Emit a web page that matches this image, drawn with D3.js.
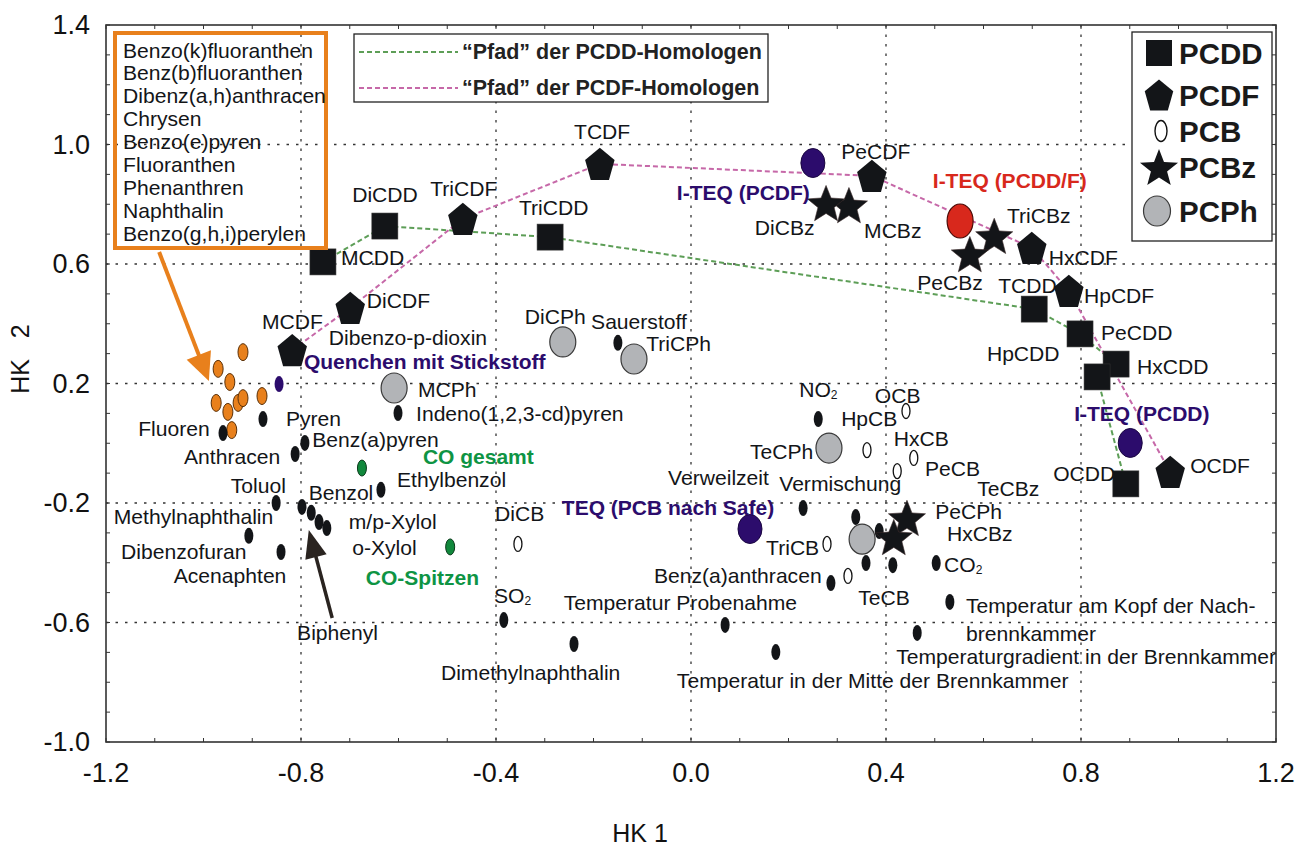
<!DOCTYPE html>
<html><head><meta charset="utf-8">
<script src="https://cdn.jsdelivr.net/npm/d3@7"></script>
<style>
body{margin:0;background:#fff;}
svg{display:block;font-family:"Liberation Sans",Arial,Helvetica,sans-serif;}
</style></head><body>
<svg id="chart" width="1308" height="847"></svg>
<script>
// ---------- data (HK 1 = x, HK 2 = y) ----------
const xTicks=[-1.2,-0.8,-0.4,0.0,0.4,0.8,1.2];
const yTicks=[-1.0,-0.6,-0.2,0.2,0.6,1.0,1.4];

const pcdd=[
 {n:"MCDD",x:-0.755,y:0.607},{n:"DiCDD",x:-0.628,y:0.727},{n:"TriCDD",x:-0.289,y:0.690},
 {n:"TCDD",x:0.704,y:0.449},{n:"PeCDD",x:0.798,y:0.366},{n:"HxCDD",x:0.872,y:0.265},
 {n:"HpCDD",x:0.833,y:0.222},{n:"OCDD",x:0.892,y:-0.136}];
const pcdf=[
 {n:"MCDF",x:-0.818,y:0.312},{n:"DiCDF",x:-0.699,y:0.453},{n:"TriCDF",x:-0.468,y:0.751},
 {n:"TCDF",x:-0.187,y:0.935},{n:"PeCDF",x:0.371,y:0.895},{n:"HxCDF",x:0.699,y:0.654},
 {n:"HpCDF",x:0.775,y:0.510},{n:"OCDF",x:0.983,y:-0.096}];
const pcb=[
 {n:"DiCB",x:-0.355,y:-0.337},{n:"TriCB",x:0.279,y:-0.337},{n:"TeCB",x:0.322,y:-0.444},
 {n:"PeCB",x:0.423,y:-0.093},{n:"HxCB",x:0.457,y:-0.049},{n:"HpCB",x:0.361,y:-0.023},
 {n:"OCB",x:0.441,y:0.108}];
const pcbz=[
 {n:"MCBz",x:0.324,y:0.797},{n:"DiCBz",x:0.277,y:0.804},{n:"TriCBz",x:0.622,y:0.694},
 {n:"TeCBz",x:0.443,y:-0.250},{n:"PeCBz",x:0.572,y:0.633},{n:"HxCBz",x:0.416,y:-0.314}];
const pcph=[
 {n:"MCPh",x:-0.609,y:0.185},{n:"DiCPh",x:-0.263,y:0.339},{n:"TriCPh",x:-0.117,y:0.282},
 {n:"TeCPh",x:0.283,y:-0.016},{n:"PeCPh",x:0.351,y:-0.321}];
const teqPurple=[
 {n:"I-TEQ (PCDF)",x:0.250,y:0.938},{n:"I-TEQ (PCDD)",x:0.901,y:0.001},
 {n:"TEQ (PCB nach Safe)",x:0.121,y:-0.287}];
const teqRed=[{n:"I-TEQ (PCDD/F)",x:0.552,y:0.744}];
const quench=[{n:"Quenchen mit Stickstoff",x:-0.845,y:0.198}];
const coPoints=[{n:"CO gesamt",x:-0.675,y:-0.083},{n:"CO-Spitzen",x:-0.494,y:-0.347}];
const pahNames=["Benzo(k)fluoranthen","Benz(b)fluoranthen","Dibenz(a,h)anthracen","Chrysen",
 "Benzo(e)pyren","Fluoranthen","Phenanthren","Naphthalin","Benzo(g,h,i)perylen"];
const pahPoints=[
 {x:-0.919,y:0.305},{x:-0.970,y:0.249},{x:-0.946,y:0.205},{x:-0.974,y:0.135},{x:-0.950,y:0.105},
 {x:-0.929,y:0.135},{x:-0.919,y:0.151},{x:-0.880,y:0.158},{x:-0.942,y:0.044}];
const otherPoints=[
 {n:"Pyren",x:-0.878,y:0.081},{n:"Fluoren",x:-0.960,y:0.034},{n:"Anthracen",x:-0.812,y:-0.036},
 {n:"Benz(a)pyren",x:-0.792,y:0.001},{n:"Indeno(1,2,3-cd)pyren",x:-0.601,y:0.101},
 {n:"Ethylbenzol",x:-0.636,y:-0.156},{n:"Toluol",x:-0.851,y:-0.200},{n:"Benzol",x:-0.798,y:-0.213},
 {n:"m/p-Xylol",x:-0.779,y:-0.233},{n:"o-Xylol",x:-0.763,y:-0.264},{n:"Biphenyl",x:-0.747,y:-0.284},
 {n:"Dibenzofuran",x:-0.907,y:-0.310},{n:"Acenaphten",x:-0.841,y:-0.364},
 {n:"Sauerstoff",x:-0.150,y:0.336},{n:"NO2",x:0.261,y:0.081},{n:"Verweilzeit",x:0.230,y:-0.217},
 {n:"Vermischung",x:0.338,y:-0.247},{n:"p1",x:0.386,y:-0.294},{n:"p2",x:0.359,y:-0.401},
 {n:"p3",x:0.414,y:-0.408},{n:"Benz(a)anthracen",x:0.287,y:-0.468},{n:"CO2",x:0.503,y:-0.401},
 {n:"Temperatur am Kopf",x:0.531,y:-0.531},{n:"Temperaturgradient",x:0.464,y:-0.635},
 {n:"SO2",x:-0.384,y:-0.592},{n:"Dimethylnaphthalin",x:-0.240,y:-0.672},
 {n:"Temperatur Probenahme",x:0.070,y:-0.608},{n:"Temperatur Mitte",x:0.174,y:-0.699}];
const pcddPath=["MCDD","DiCDD","TriCDD","TCDD","PeCDD","HxCDD","HpCDD","OCDD"];
const pcdfPath=["MCDF","DiCDF","TriCDF","TCDF","PeCDF","HxCDF","HpCDF","OCDF"];
// label text, anchor x, anchor y (data units, left edge / middle), kind
const labels=[
 ["DiCDD",-0.695,0.834,"n"],["TriCDF",-0.535,0.854,"n"],["MCDD",-0.718,0.623,"n"],
 ["TriCDD",-0.353,0.791,"n"],["TCDF",-0.240,1.045,"n"],["PeCDF",0.308,0.978,"n"],
 ["I-TEQ (PCDF)",-0.029,0.841,"p"],["DiCBz",0.131,0.724,"n"],["MCBz",0.355,0.714,"n"],
 ["I-TEQ (PCDD/F)",0.496,0.881,"r"],["TriCBz",0.648,0.764,"n"],["HxCDF",0.734,0.623,"n"],
 ["PeCBz",0.464,0.540,"n"],["TCDD",0.630,0.530,"n"],["HpCDF",0.806,0.496,"n"],
 ["PeCDD",0.841,0.372,"n"],["HpCDD",0.607,0.302,"n"],["HxCDD",0.915,0.259,"n"],
 ["I-TEQ (PCDD)",0.786,0.101,"p"],["OCDF",1.024,-0.073,"n"],["OCDD",0.743,-0.100,"n"],
 ["OCB",0.377,0.162,"n"],["HxCB",0.416,0.018,"n"],["PeCB",0.480,-0.083,"n"],
 ["TeCBz",0.587,-0.150,"n"],["PeCPh",0.501,-0.227,"n"],["HxCBz",0.525,-0.300,"n"],
 ["CO|2",0.519,-0.404,"n"],["TeCB",0.343,-0.515,"n"],
 ["Temperatur am Kopf der Nach-",0.564,-0.541,"n"],["brennkammer",0.564,-0.635,"n"],
 ["Temperaturgradient in der Brennkammer",0.421,-0.712,"n"],
 ["Temperatur in der Mitte der Brennkammer",-0.029,-0.792,"n"],
 ["DiCPh",-0.341,0.426,"n"],["Sauerstoff",-0.205,0.409,"n"],["TriCPh",-0.092,0.336,"n"],
 ["NO|2",0.222,0.182,"n"],["HpCB",0.308,0.085,"n"],["TeCPh",0.121,-0.026,"n"],
 ["Verweilzeit",-0.047,-0.113,"n"],["Vermischung",0.181,-0.133,"n"],
 ["TEQ (PCB nach Safe)",-0.265,-0.213,"p"],["TriCB",0.154,-0.347,"n"],
 ["Benz(a)anthracen",-0.076,-0.441,"n"],["Indeno(1,2,3-cd)pyren",-0.564,0.101,"n"],
 ["MCDF",-0.880,0.409,"n"],["DiCDF",-0.665,0.479,"n"],["Dibenzo-p-dioxin",-0.743,0.356,"n"],
 ["Quenchen mit Stickstoff",-0.794,0.275,"p"],["MCPh",-0.560,0.182,"n"],
 ["Pyren",-0.831,0.085,"n"],["Fluoren",-1.134,0.051,"n"],["Benz(a)pyren",-0.777,0.014,"n"],
 ["Anthracen",-1.040,-0.043,"n"],["CO gesamt",-0.550,-0.043,"g"],["Ethylbenzol",-0.603,-0.121,"n"],
 ["Toluol",-0.944,-0.140,"n"],["Benzol",-0.784,-0.163,"n"],["Methylnaphthalin",-1.184,-0.244,"n"],
 ["m/p-Xylol",-0.702,-0.260,"n"],["DiCB",-0.402,-0.233,"n"],["o-Xylol",-0.695,-0.347,"n"],
 ["Dibenzofuran",-1.169,-0.361,"n"],["Acenaphten",-1.061,-0.441,"n"],["CO-Spitzen",-0.667,-0.448,"g"],
 ["SO|2",-0.404,-0.508,"n"],["Temperatur Probenahme",-0.261,-0.531,"n"],
 ["Dimethylnaphthalin",-0.513,-0.766,"n"],["Biphenyl",-0.808,-0.632,"n"]];
const legendItems=["PCDD","PCDF","PCB","PCBz","PCPh"];
const pathLegend=["\u201cPfad\u201d der PCDD-Homologen","\u201cPfad\u201d der PCDF-Homologen"];
// annotation arrows [tailX, tailY, headX, headY] in data units
const orangeArrow=[-1.091,0.640,-0.989,0.208];
const blackArrow=[-0.736,-0.585,-0.784,-0.290];

// ---------- drawing ----------
const svg=d3.select("#chart");
const L=106,R=1276,T=25,B=742;
const x=d3.scaleLinear().domain([-1.2,1.2]).range([L,R]);
const y=d3.scaleLinear().domain([-1.0,1.4]).range([B,T]);
const BLACK="#131518",PURPLE="#2c0c6c",RED="#d8281c",GREEN="#0e9444",ORANGE="#e8801c";
const LABEL_FS=21.1;

// grid
const gx=xTicks.slice(1,-1), gy=yTicks.slice(1,-1);
svg.append("g").selectAll("line").data(gx).join("line")
 .attr("x1",d=>x(d)).attr("x2",d=>x(d)).attr("y1",T).attr("y2",B)
 .attr("stroke","#333").attr("stroke-width",1.3).attr("stroke-dasharray","2.5,7");
svg.append("g").selectAll("line").data(gy).join("line")
 .attr("y1",d=>y(d)).attr("y2",d=>y(d)).attr("x1",L).attr("x2",R)
 .attr("stroke","#333").attr("stroke-width",1.3).attr("stroke-dasharray","2.5,7");

// axes (minor ticks inside on all four sides)
const minorX=d3.range(-12,13).map(i=>i/10), minorY=d3.range(-10,15).map(i=>i/10);
const tickG=svg.append("g").attr("stroke","#333").attr("stroke-width",1);
tickG.selectAll(".tb").data(minorX).join("line").attr("x1",d=>x(d)).attr("x2",d=>x(d)).attr("y1",B).attr("y2",B-4);
tickG.selectAll(".tt").data(minorX).join("line").attr("x1",d=>x(d)).attr("x2",d=>x(d)).attr("y1",T).attr("y2",T+4);
tickG.selectAll(".tl").data(minorY).join("line").attr("y1",d=>y(d)).attr("y2",d=>y(d)).attr("x1",L).attr("x2",L+4);
tickG.selectAll(".tr").data(minorY).join("line").attr("y1",d=>y(d)).attr("y2",d=>y(d)).attr("x1",R).attr("x2",R-4);
svg.append("rect").attr("x",L).attr("y",T).attr("width",R-L).attr("height",B-T)
 .attr("fill","none").attr("stroke","#333").attr("stroke-width",1.6);

svg.append("g").selectAll("text").data(xTicks).join("text")
 .attr("x",d=>x(d)).attr("y",773).attr("text-anchor","middle").attr("dominant-baseline","central")
 .attr("font-size",27).attr("fill","#111").text(d=>d3.format(".1f")(d).replace("−","-"));
svg.append("g").selectAll("text").data(yTicks).join("text")
 .attr("x",90).attr("y",d=>y(d)).attr("text-anchor","end").attr("dominant-baseline","central")
 .attr("font-size",27).attr("fill","#111").text(d=>d3.format(".1f")(d).replace("−","-"));
svg.append("text").attr("x",640).attr("y",833).attr("text-anchor","middle").attr("dominant-baseline","central")
 .attr("font-size",25).attr("fill","#111").text("HK 1");
svg.append("text").attr("transform","translate(20,359) rotate(-90)").attr("text-anchor","middle")
 .attr("dominant-baseline","central").attr("font-size",25).attr("fill","#111")
 .style("white-space","pre").text("HK   2");

// homologue paths
const byName=n=>pcdd.concat(pcdf).find(d=>d.n===n);
const line=d3.line().x(d=>x(d.x)).y(d=>y(d.y));
svg.append("path").attr("d",line(pcddPath.map(byName))).attr("fill","none")
 .attr("stroke","#5d9e57").attr("stroke-width",2).attr("stroke-dasharray","5,3");
svg.append("path").attr("d",line(pcdfPath.map(byName))).attr("fill","none")
 .attr("stroke","#c668a8").attr("stroke-width",2).attr("stroke-dasharray","5,3");

// shape helpers
function pentPath(r){const sy=1.15,p=[];for(let i=0;i<5;i++){const a=-Math.PI/2+i*2*Math.PI/5;p.push([r*Math.cos(a),r*Math.sin(a)*sy+r*0.0955*sy]);}return "M"+p.map(q=>q.join(",")).join("L")+"Z";}
function starPath(ro,ri){const p=[];for(let i=0;i<10;i++){const a=-Math.PI/2+i*Math.PI/5,rr=i%2?ri:ro;p.push([rr*Math.cos(a),rr*Math.sin(a)+ro*0.095]);}return "M"+p.map(q=>q.join(",")).join("L")+"Z";}

// small dots
svg.append("g").selectAll("ellipse").data(pahPoints).join("ellipse")
 .attr("cx",d=>x(d.x)).attr("cy",d=>y(d.y)).attr("rx",5).attr("ry",8.5)
 .attr("fill",ORANGE).attr("stroke","#5a3008").attr("stroke-width",1);
svg.append("g").selectAll("ellipse").data(otherPoints).join("ellipse")
 .attr("cx",d=>x(d.x)).attr("cy",d=>y(d.y)).attr("rx",4.5).attr("ry",8).attr("fill",BLACK);
svg.append("g").selectAll("ellipse").data(coPoints).join("ellipse")
 .attr("cx",d=>x(d.x)).attr("cy",d=>y(d.y)).attr("rx",4.5).attr("ry",8)
 .attr("fill","#11883c").attr("stroke","#0a3a1a").attr("stroke-width",1);
svg.append("g").selectAll("ellipse").data(quench).join("ellipse")
 .attr("cx",d=>x(d.x)).attr("cy",d=>y(d.y)).attr("rx",4.5).attr("ry",8).attr("fill",PURPLE);
svg.append("g").selectAll("ellipse").data(pcb).join("ellipse")
 .attr("cx",d=>x(d.x)).attr("cy",d=>y(d.y)).attr("rx",4).attr("ry",7.5)
 .attr("fill","#fff").attr("stroke","#111").attr("stroke-width",1.3);
// PCPh
svg.append("g").selectAll("ellipse").data(pcph).join("ellipse")
 .attr("cx",d=>x(d.x)).attr("cy",d=>y(d.y)).attr("rx",13).attr("ry",15)
 .attr("fill","#b2b4b7").attr("stroke","#3a3a3a").attr("stroke-width",1.2);
// TEQ
svg.append("g").selectAll("ellipse").data(teqPurple).join("ellipse")
 .attr("cx",d=>x(d.x)).attr("cy",d=>y(d.y)).attr("rx",12).attr("ry",14.5)
 .attr("fill",PURPLE).attr("stroke","#1a0640").attr("stroke-width",1);
svg.append("g").selectAll("ellipse").data(teqRed).join("ellipse")
 .attr("cx",d=>x(d.x)).attr("cy",d=>y(d.y)).attr("rx",13).attr("ry",17)
 .attr("fill",RED).attr("stroke","#4a0a06").attr("stroke-width",1.2);
// stars
svg.append("g").selectAll("path").data(pcbz).join("path")
 .attr("transform",d=>`translate(${x(d.x)},${y(d.y)})`).attr("d",starPath(19.5,8.5)).attr("fill",BLACK)
 .attr("stroke","#3a2a2a").attr("stroke-width",0.6);
// squares
svg.append("g").selectAll("rect").data(pcdd).join("rect")
 .attr("x",d=>x(d.x)-13).attr("y",d=>y(d.y)-13).attr("width",26).attr("height",26)
 .attr("fill",BLACK).attr("stroke","#333").attr("stroke-width",0.6);
// pentagons
svg.append("g").selectAll("path").data(pcdf).join("path")
 .attr("transform",d=>`translate(${x(d.x)},${y(d.y)})`).attr("d",pentPath(15.5)).attr("fill",BLACK);

// labels
const kindStyle={n:[BLACK,"normal",LABEL_FS],p:[PURPLE,"bold",21],r:[RED,"bold",21],g:[GREEN,"bold",21]};
const lab=svg.append("g").selectAll("text").data(labels).join("text")
 .attr("x",d=>x(d[1])).attr("y",d=>y(d[2])).attr("dominant-baseline","central")
 .attr("fill",d=>kindStyle[d[3]][0]).attr("font-weight",d=>kindStyle[d[3]][1])
 .attr("font-size",d=>kindStyle[d[3]][2]);
lab.each(function(d){
 const parts=d[0].split("|"), t=d3.select(this);
 t.append("tspan").text(parts[0]);
 if(parts[1]) t.append("tspan").attr("font-size",12).attr("dy",6).text(parts[1]);
});

// orange annotation box
const ob=svg.append("g");
ob.append("rect").attr("x",115).attr("y",33).attr("width",211).attr("height",215)
 .attr("fill","none").attr("stroke",ORANGE).attr("stroke-width",4);
ob.selectAll("text").data(pahNames).join("text").attr("x",123).attr("y",(d,i)=>50+i*22.9)
 .attr("dominant-baseline","central").attr("font-size",LABEL_FS).attr("fill",BLACK).text(d=>d);

function arrow(a,color,w,hl,hw){
 const x1=x(a[0]),y1=y(a[1]),x2=x(a[2]),y2=y(a[3]);
 const dx=x2-x1,dy=y2-y1,len=Math.hypot(dx,dy),ux=dx/len,uy=dy/len;
 const bx=x2-ux*hl,by=y2-uy*hl;
 svg.append("line").attr("x1",x1).attr("y1",y1).attr("x2",bx+ux*2).attr("y2",by+uy*2)
  .attr("stroke",color).attr("stroke-width",w);
 svg.append("path").attr("d",`M${x2},${y2}L${bx-uy*hw/2},${by+ux*hw/2}L${bx+uy*hw/2},${by-ux*hw/2}Z`).attr("fill",color);
}
arrow(orangeArrow,ORANGE,4,28,26);
arrow(blackArrow,"#2a2420",3.5,28,22);

// path legend
const pl=svg.append("g");
pl.append("rect").attr("x",354).attr("y",34).attr("width",414).attr("height",68)
 .attr("fill","#fff").attr("stroke","#222").attr("stroke-width",1.3);
const plColors=["#5d9e57","#c668a8"];
pathLegend.forEach((t,i)=>{
 const yy=52+i*36;
 pl.append("line").attr("x1",359).attr("x2",458).attr("y1",yy).attr("y2",yy)
  .attr("stroke",plColors[i]).attr("stroke-width",2).attr("stroke-dasharray","5,3");
 pl.append("text").attr("x",462).attr("y",yy).attr("dominant-baseline","central")
  .attr("font-size",21.5).attr("font-weight","bold").attr("fill","#222").text(t);
});

// symbol legend
const sl=svg.append("g");
sl.append("rect").attr("x",1132).attr("y",32).attr("width",140).attr("height",209)
 .attr("fill","#fff").attr("stroke","#222").attr("stroke-width",1.3);
const ly=[53,95,131,167,211];
legendItems.forEach((t,i)=>{
 const cy=ly[i], cx=1159;
 if(t==="PCDD") sl.append("rect").attr("x",cx-13).attr("y",cy-13).attr("width",26).attr("height",26).attr("fill",BLACK);
 if(t==="PCDF") sl.append("path").attr("transform",`translate(${cx},${cy})`).attr("d",pentPath(15)).attr("fill",BLACK);
 if(t==="PCB") sl.append("ellipse").attr("cx",cx+2).attr("cy",cy).attr("rx",6).attr("ry",10.5).attr("fill","#fff").attr("stroke","#111").attr("stroke-width",1.4);
 if(t==="PCBz") sl.append("path").attr("transform",`translate(${cx},${cy})`).attr("d",starPath(20,8.5)).attr("fill",BLACK);
 if(t==="PCPh") sl.append("ellipse").attr("cx",cx-2).attr("cy",cy).attr("rx",13.5).attr("ry",15).attr("fill","#b2b4b7").attr("stroke","#3a3a3a").attr("stroke-width",1.2);
 sl.append("text").attr("x",1179).attr("y",cy).attr("dominant-baseline","central")
  .attr("font-size",29.5).attr("font-weight","bold").attr("fill","#1a1a1a").text(t);
});
</script>
</body></html>
